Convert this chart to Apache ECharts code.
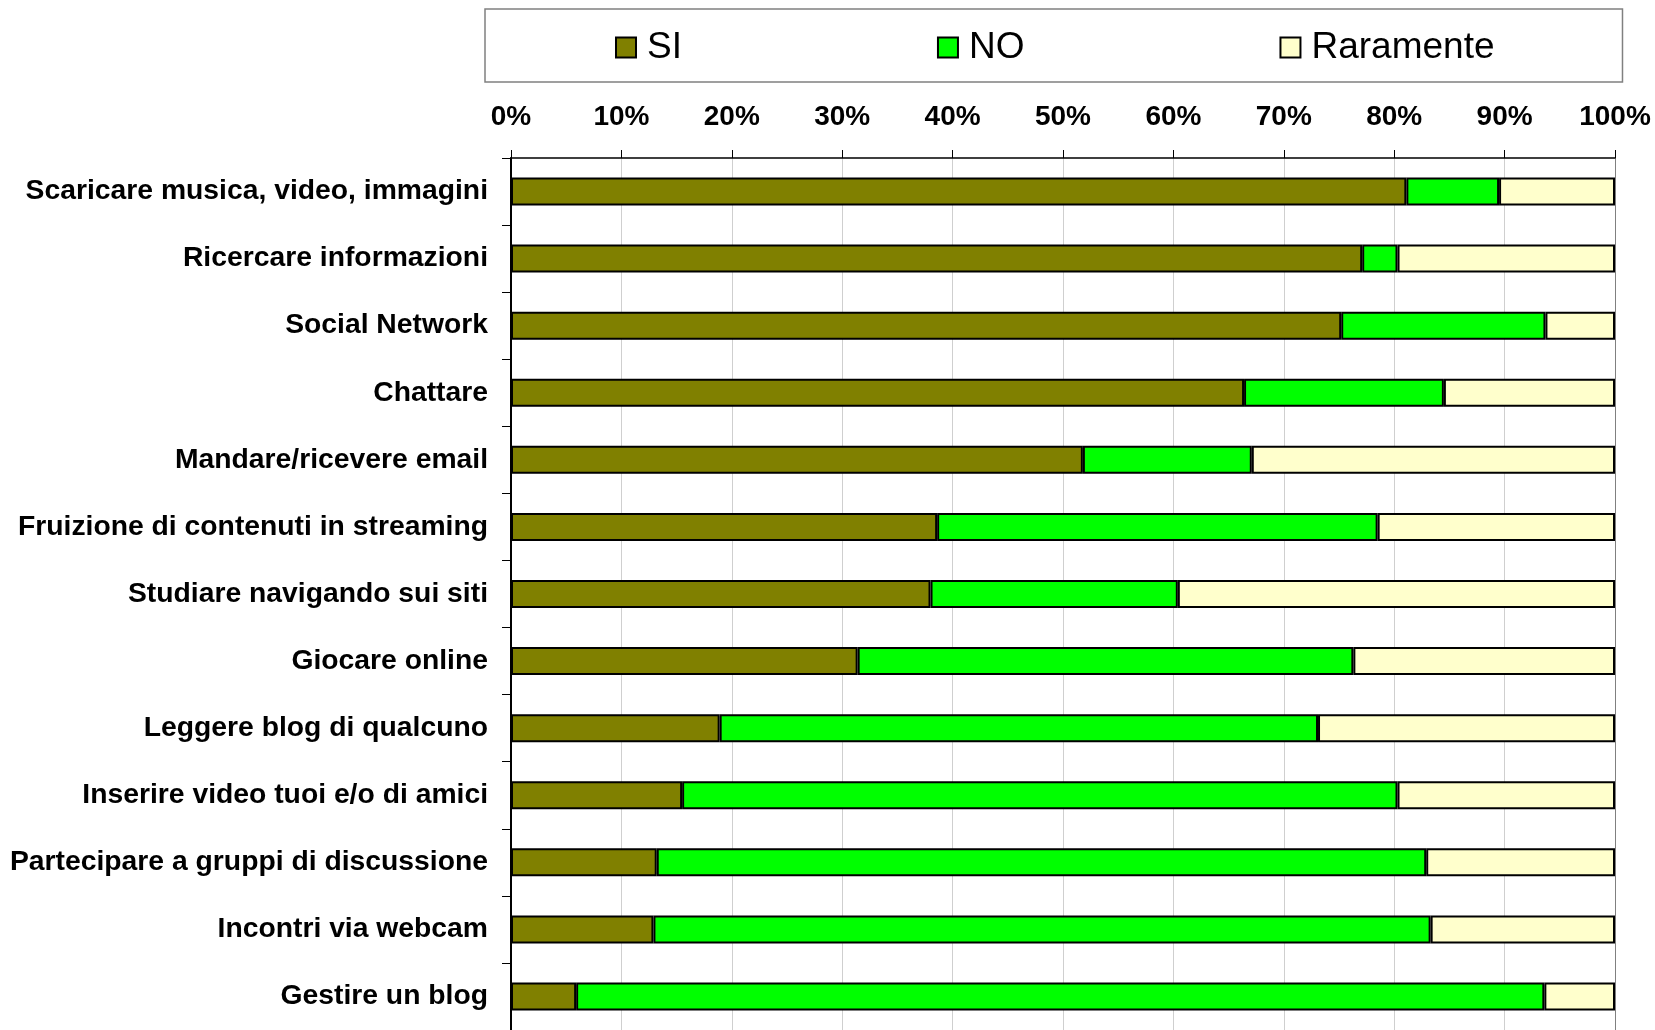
<!DOCTYPE html>
<html>
<head>
<meta charset="utf-8">
<script src="https://cdn.jsdelivr.net/npm/echarts@6/dist/echarts.min.js"></script>
<style>
html,body{margin:0;padding:0;background:#fff;}
#chart{width:1655px;height:1030px;}
</style>
</head>
<body>
<div id="chart"></div>
<script>
var categories = [
  "Scaricare musica, video, immagini",
  "Ricercare informazioni",
  "Social Network",
  "Chattare",
  "Mandare/ricevere email",
  "Fruizione di contenuti in streaming",
  "Studiare navigando sui siti",
  "Giocare online",
  "Leggere blog di qualcuno",
  "Inserire video tuoi e/o di amici",
  "Partecipare a gruppi di discussione",
  "Incontri via webcam",
  "Gestire un blog"
];
var siValues  = [81.1, 77.1, 75.2, 66.4, 51.8, 38.6, 38.0, 31.4, 18.9, 15.5, 13.2, 12.9, 5.9];
var noValues  = [8.4, 3.2, 18.5, 18.1, 15.3, 39.9, 22.4, 44.9, 54.2, 64.8, 69.7, 70.4, 87.7];
var rarValues = [10.5, 19.7, 6.3, 15.5, 32.9, 21.5, 39.6, 23.7, 26.9, 19.7, 17.1, 16.7, 6.4];
var seriesNames = ["SI", "NO", "Raramente"];
var seriesColors = ["#808000", "#00FF00", "#FFFFCC"];

var FONT = "'Liberation Sans', Arial, sans-serif";
var chart = echarts.init(document.getElementById('chart'), null, {renderer: 'canvas'});

function mkSeries(i, data) {
  return {
    name: seriesNames[i],
    type: 'bar',
    stack: 'total',
    barWidth: 28,
    data: data,
    itemStyle: {color: seriesColors[i], borderColor: '#000', borderWidth: 2},
    emphasis: {disabled: true}
  };
}

var gridColors = ['#cfcfcf','#cfcfcf','#cfcfcf','#cfcfcf','#cfcfcf','#cfcfcf','#cfcfcf','#cfcfcf','#cfcfcf','#cfcfcf','#808080'];

chart.setOption({
  animation: false,
  backgroundColor: '#fff',
  textStyle: {fontFamily: FONT},
  legend: {
    data: seriesNames,
    left: 485,
    top: 9,
    padding: [20, 128, 16, 130],
    itemGap: 255,
    itemWidth: 20,
    itemHeight: 20,
    borderColor: '#808080',
    borderWidth: 1.5,
    icon: 'rect',
    itemStyle: {borderColor: '#000', borderWidth: 2},
    textStyle: {fontSize: 37, color: '#000', fontFamily: FONT, padding: [0, 0, 0, 6]}
  },
  grid: {left: 511, right: 40, top: 158, height: 875, containLabel: false},
  xAxis: {
    type: 'value',
    position: 'top',
    min: 0,
    max: 100,
    interval: 10,
    axisLine: {show: true, lineStyle: {color: '#000', width: 1.5}},
    axisTick: {show: true, length: 8, lineStyle: {color: '#000', width: 1}},
    axisLabel: {formatter: '{value}%', fontSize: 28, fontWeight: 'bold', color: '#000', margin: 27, fontFamily: FONT},
    splitLine: {show: true, lineStyle: {color: gridColors, width: 1}}
  },
  yAxis: {
    type: 'category',
    inverse: true,
    data: categories,
    axisLine: {show: true, lineStyle: {color: '#000', width: 2}},
    axisTick: {show: true, length: 9, alignWithLabel: false, lineStyle: {color: '#000', width: 1}},
    axisLabel: {fontSize: 28.3, fontWeight: 'bold', color: '#000', margin: 23, fontFamily: FONT},
    splitLine: {show: false}
  },
  series: [mkSeries(0, siValues), mkSeries(1, noValues), mkSeries(2, rarValues)]
});
</script>
</body>
</html>
